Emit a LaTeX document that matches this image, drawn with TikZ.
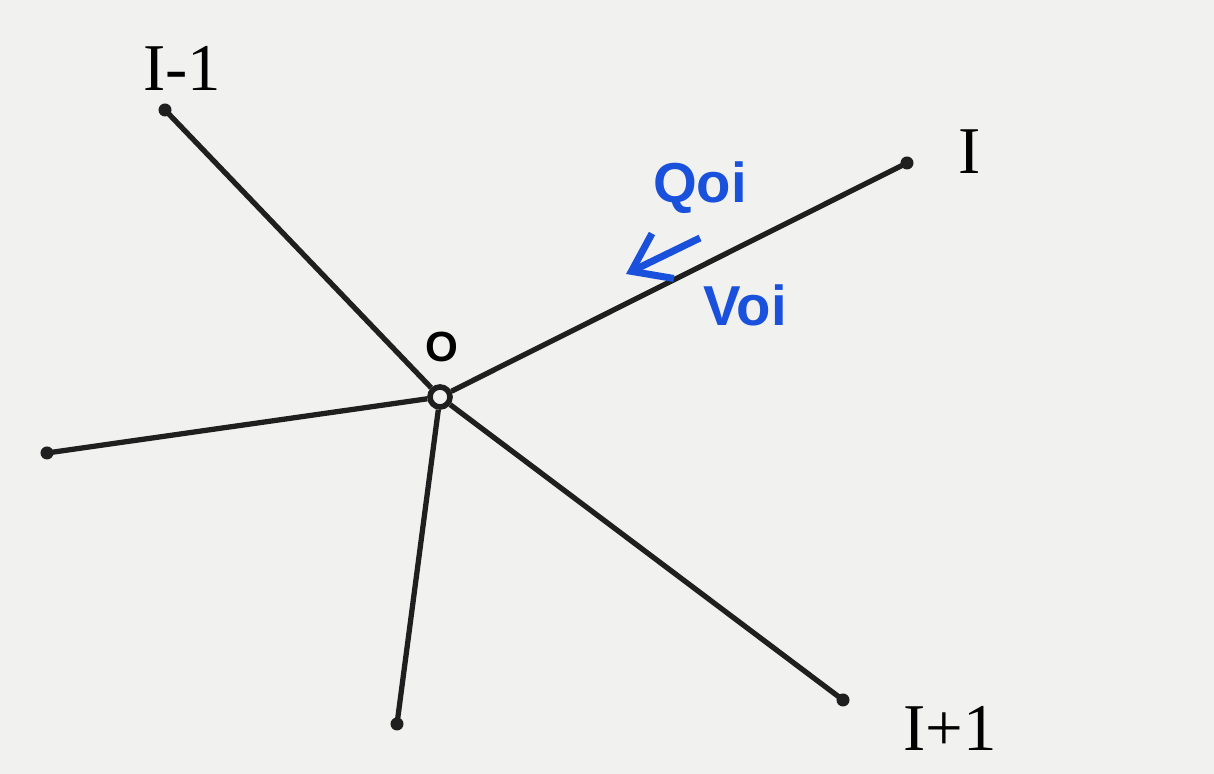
\documentclass[tikz,border=0pt]{standalone}
\usepackage{fontspec}
\setmainfont{Liberation Serif}
\newfontfamily\handfont{Liberation Sans}
\usetikzlibrary{arrows.meta}
\definecolor{paper}{RGB}{241,241,239}
\definecolor{inkblue}{RGB}{25,80,220}
\tikzset{
  bar/.style={line width=1.5pt, black!88},
  hub/.style={circle, draw, line width=1.6pt, black!88, fill=paper, inner sep=0pt, minimum size=0.2cm},
  lbl/.style={black, font=\fontsize{19}{21}\selectfont},
  blbl/.style={inkblue, font=\handfont\bfseries\fontsize{16}{18}\selectfont},
  flow/.style={inkblue, line width=2pt, -{Straight Barb[length=3.5mm, width=5mm]}}
}
\begin{document}
\begin{tikzpicture}[x=0.01cm, y=-0.01cm]
    % Background
    \fill[paper] (0,0) rectangle (1214,774);
    \useasboundingbox (0,0) rectangle (1214,774);

    % Coordinates
    \coordinate (A) at (165,110);
    \coordinate (B) at (907,163);
    \coordinate (C) at (843,700);
    \coordinate (D) at (397,724);
    \coordinate (E) at (47,453);
    \coordinate (F1) at (700,238);
    \coordinate (F2) at (626,274);
    \node[hub] (O) at (440,397) {};

    % Drawing
    \draw[bar] (O) -- (A);
    \draw[bar] (O) -- (B);
    \draw[bar] (O) -- (C);
    \draw[bar] (O) -- (D);
    \draw[bar] (O) -- (E);
    \fill[black!88] (A) circle (0.065cm);
    \fill[black!88] (B) circle (0.065cm);
    \fill[black!88] (C) circle (0.065cm);
    \fill[black!88] (D) circle (0.065cm);
    \fill[black!88] (E) circle (0.065cm);
    \draw[flow] (F1) -- (F2);

    % Labels
    \node[lbl] (LA) at (182,68) {I-1};
    \node[lbl] (LB) at (970,152) {I};
    \node[lbl] (LC) at (950,728) {I+1};
    \node[black, font=\handfont\bfseries\fontsize{12}{14}\selectfont] (LO) at (442,347) {O};
    \node[blbl] (Q) at (700,188) {Qoi};
    \node[blbl] (V) at (745,305) {Voi};
  \end{tikzpicture}
\end{document}
